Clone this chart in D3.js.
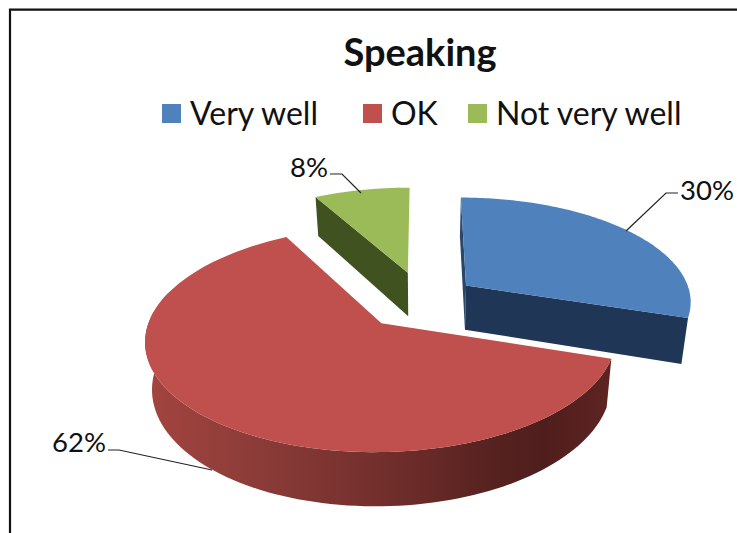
<!DOCTYPE html>
<html><head><meta charset="utf-8">
<script src="https://cdn.jsdelivr.net/npm/d3@7"></script>
<style>html,body{margin:0;padding:0;background:#fff}svg{display:block}text{font-family:Lato,'Open Sans',sans-serif;fill:#111}</style>
</head><body><svg id="c" width="737" height="533"></svg>
<script>
const title = "Speaking";
const categories = ["Very well", "OK", "Not very well"];
const values = [30, 62, 8];
const labels = ["30%", "62%", "8%"];
const colors = ["#4f81bd", "#c0504d", "#9bbb59"];
const sideColors = ["#1f3656", "#7a302e", "#3f5220"];
const explodes = [0.24, 0.28, 0.28];

const svg = d3.select("#c");
const W = 737, H = 533;
svg.append("rect").attr("width", W).attr("height", H).attr("fill", "#fff");
svg.append("path").attr("d", `M10,${H}V9.7H${W}`).attr("fill", "none").attr("stroke", "#111").attr("stroke-width", 2.2);

// Perspective projection of the tilted pie
const xc = 423, yc = 300, a = 226, b = 104, p = 0.139, depth = 45, narrow = 0.025;
function proj(u, v, low) {
  const s = 1 / (1 - p * v);
  let x = a * u * s, y = b * v * s;
  if (low) { x *= (1 - narrow); y += depth * s; }
  return [xc + x, yc + y];
}
const pie = d3.pie().sort(null).value(d => d)(values);
const line = d3.line();
const defs = svg.append("defs");
const grad = defs.append("linearGradient").attr("id", "rs").attr("gradientUnits", "userSpaceOnUse")
  .attr("x1", 147).attr("x2", 613).attr("y1", 0).attr("y2", 0);
[[0, "#a3443f"], [0.2, "#8f3d39"], [0.4, "#7c3431"], [0.58, "#6a2b28"], [0.72, "#582321"], [0.85, "#4f1e1c"], [1, "#5e2422"]]
  .forEach(([o, c]) => grad.append("stop").attr("offset", o).attr("stop-color", c));

function slice(d, i) {
  const mid = (d.startAngle + d.endAngle) / 2;
  const ou = explodes[i] * Math.sin(mid), ov = -explodes[i] * Math.cos(mid);
  const rim = (t, low) => proj(ou + Math.sin(t), ov - Math.cos(t), low);
  const apex = low => proj(ou, ov, low);
  return { rim, apex };
}
const draw = [2, 0, 1]; // back to front
draw.forEach(i => {
  const d = pie[i], g = svg.append("g"), sl = slice(d, i);
  const arc = d3.range(0, 121).map(k => d.startAngle + (d.endAngle - d.startAngle) * k / 120);
  if (i === 2) {
    g.append("path").attr("d", line([sl.apex(false), sl.rim(d.startAngle, false), sl.rim(d.startAngle, true), sl.apex(true)]) + "Z").attr("fill", sideColors[i]);
  }
  if (i === 0) {
    g.append("path").attr("d", line([sl.apex(false), sl.rim(d.startAngle, false), sl.rim(d.startAngle, true), sl.apex(true)]) + "Z").attr("fill", "#2a4668");
    g.append("path").attr("d", line([sl.apex(false), sl.rim(d.endAngle, false), sl.rim(d.endAngle, true), sl.apex(true)]) + "Z").attr("fill", sideColors[i]);
  }
  if (i === 1) {
    const front = arc.filter(t => t < 1.6 * Math.PI);
    const pts = front.map(t => sl.rim(t, false)).concat(front.slice().reverse().map(t => sl.rim(t, true)));
    g.append("path").attr("d", line(pts) + "Z").attr("fill", "url(#rs)");
  }
  const top = [sl.apex(false)].concat(arc.map(t => sl.rim(t, false)));
  g.append("path").attr("d", line(top) + "Z").attr("fill", colors[i]);
});

// Title and legend
svg.append("text").attr("x", 420).attr("y", 66).attr("text-anchor", "middle")
  .attr("font-size", 38).attr("font-weight", 700).text(title);
const legendX = [162, 363, 468];
categories.forEach((c, i) => {
  svg.append("rect").attr("x", legendX[i]).attr("y", 104).attr("width", 19).attr("height", 19).attr("fill", colors[i]);
  svg.append("text").attr("x", legendX[i] + 28).attr("y", 125).attr("font-size", 32).text(c);
});

// Data labels with leader lines
const labelPos = [[680, 200, "start"], [106, 452, "end"], [328, 177, "end"]];
const leaders = [[[678, 193], [666, 193], [626, 231]], [[108, 450], [119, 450], [212, 470]], [[330, 174], [342, 174], [361, 193]]];
labels.forEach((t, i) => {
  svg.append("text").attr("x", labelPos[i][0]).attr("y", labelPos[i][1]).attr("text-anchor", labelPos[i][2]).attr("font-size", 27.5).text(t);
  svg.append("path").attr("d", line(leaders[i])).attr("fill", "none").attr("stroke", "#222").attr("stroke-width", 1.2);
});
</script></body></html>
